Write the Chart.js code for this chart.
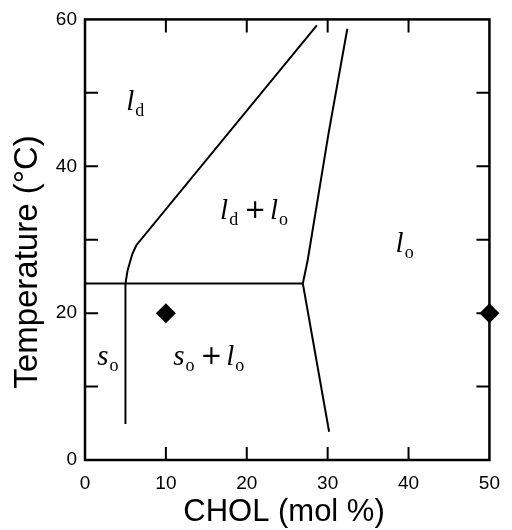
<!DOCTYPE html>
<html><head><meta charset="utf-8">
<script src="https://cdn.jsdelivr.net/npm/chart.js@4"></script>
<style>html,body{margin:0;padding:0;background:#fff}</style>
</head><body>
<canvas id="c" width="512" height="530"></canvas>
<script>
// ---- data ----
const xTickValues = [0, 10, 20, 30, 40, 50];
const yTickLabelValues = [0, 20, 40, 60];
// l_d boundary (s_o vertical line + curve + straight line)
const ldBoundaryX = [5.0, 5.0, 5.27, 5.87, 6.35, 28.66];
const ldBoundaryY = [4.9, 24.04, 25.85, 28.12, 29.25, 59.18];
// three-phase horizontal line
const threePhaseX = [0, 26.93];
const threePhaseY = [24.04, 24.04];
// l_o boundary
const loBoundaryX = [30.18, 26.93, 27.53, 30.1, 32.43];
const loBoundaryY = [3.85, 24.04, 27.2, 44.4, 58.73];
// diamond markers
const markerX = [10, 50];
const markerY = [20, 20];
// phase region labels (anchor in data units)
const phaseLabelX = [5.1, 16.7, 38.4, 1.5, 10.9];
const phaseLabelY = [47.6, 32.8, 28.3, 13.0, 13.0];
const phaseLabelParts = [
  [['l','i'],['d','s']],
  [['l','i'],['d','s'],['+','p'],['l','i'],['o','s']],
  [['l','i'],['o','s']],
  [['s','i'],['o','s']],
  [['s','i'],['o','s'],['+','p'],['l','i'],['o','s']]
];
const xTitle = 'CHOL (mol %)';
const yTitle = 'Temperature (°C)';

const pts = (xs, ys) => xs.map((x, i) => ({x, y: ys[i]}));

const lineStyle = {showLine: true, borderColor: '#000', borderWidth: 2, pointRadius: 0, fill: false, tension: 0};

const decor = {
  id: 'decor',
  beforeDatasetsDraw(chart) {
    const {ctx, chartArea: a, scales: {x, y}} = chart;
    ctx.save();
    ctx.strokeStyle = '#000';
    ctx.lineWidth = 2;
    const tl = 13;
    ctx.beginPath();
    x.ticks.forEach(t => {
      if (t.value <= x.min || t.value >= x.max) return;
      const px = x.getPixelForValue(t.value);
      ctx.moveTo(px, a.bottom); ctx.lineTo(px, a.bottom - tl);
      ctx.moveTo(px, a.top); ctx.lineTo(px, a.top + tl);
    });
    y.ticks.forEach(t => {
      if (t.value <= y.min || t.value >= y.max) return;
      const py = y.getPixelForValue(t.value);
      ctx.moveTo(a.left, py); ctx.lineTo(a.left + tl, py);
      ctx.moveTo(a.right, py); ctx.lineTo(a.right - tl, py);
    });
    ctx.stroke();
    ctx.lineWidth = 2.5;
    ctx.strokeRect(a.left, a.top, a.right - a.left, a.bottom - a.top);
    ctx.restore();
  },
  afterDraw(chart) {
    const {ctx, scales: {x, y}} = chart;
    ctx.save();
    ctx.fillStyle = '#000';
    ctx.textBaseline = 'alphabetic';
    ctx.textAlign = 'left';
    phaseLabelParts.forEach((parts, k) => {
      let cx = x.getPixelForValue(phaseLabelX[k]);
      const by = y.getPixelForValue(phaseLabelY[k]);
      parts.forEach(([txt, kind]) => {
        if (kind === 'i') {
          ctx.font = 'italic 29px "Liberation Serif"';
          ctx.fillText(txt, cx, by);
          cx += ctx.measureText(txt).width;
        } else if (kind === 's') {
          ctx.font = '18px "Liberation Serif"';
          ctx.fillText(txt, cx + 1, by + 6);
          cx += ctx.measureText(txt).width + 1;
        } else {
          cx += 6;
          ctx.font = '26px "DejaVu Sans"';
          ctx.fillText(txt, cx, by - 1);
          cx += ctx.measureText(txt).width + 4;
        }
      });
    });
    // axis titles
    ctx.textAlign = 'center';
    ctx.textBaseline = 'alphabetic';
    ctx.font = '31px "Liberation Sans"';
    ctx.fillText(xTitle, 284, 521);
    ctx.font = '33px "Liberation Sans"';
    ctx.translate(28, 262);
    ctx.rotate(-Math.PI / 2);
    ctx.textBaseline = 'middle';
    ctx.fillText(yTitle, 0, 0);
    ctx.restore();
  }
};

new Chart(document.getElementById('c'), {
  type: 'scatter',
  data: {
    datasets: [
      {...lineStyle, data: pts(ldBoundaryX, ldBoundaryY)},
      {...lineStyle, data: pts(threePhaseX, threePhaseY)},
      {...lineStyle, data: pts(loBoundaryX, loBoundaryY)},
      {data: pts(markerX, markerY), pointStyle: 'rectRot', pointRadius: 10, pointHoverRadius: 10,
       backgroundColor: '#000', borderColor: '#000', borderWidth: 0, clip: false}
    ]
  },
  options: {
    responsive: false,
    devicePixelRatio: 1,
    animation: false,
    events: [],
    layout: {padding: {left: 0, right: 12, top: 19, bottom: 0}},
    plugins: {legend: {display: false}, tooltip: {enabled: false}},
    scales: {
      x: {
        type: 'linear', min: 0, max: 50,
        afterBuildTicks(s) { s.ticks = xTickValues.map(v => ({value: v})); },
        ticks: {color: '#000', font: {family: 'Liberation Sans', size: 19}, padding: 12, maxRotation: 0,
                callback: v => String(v)},
        grid: {display: false, drawTicks: false},
        border: {display: false},
        afterFit(s) { s.height = 70; }
      },
      y: {
        type: 'linear', min: 0, max: 60,
        ticks: {stepSize: 10, color: '#000', font: {family: 'Liberation Sans', size: 19}, padding: 8,
                callback: v => yTickLabelValues.includes(v) ? String(v) : ''},
        grid: {display: false, drawTicks: false},
        border: {display: false},
        afterFit(s) { s.width = 85; }
      }
    }
  },
  plugins: [decor]
});
</script>
</body></html>
